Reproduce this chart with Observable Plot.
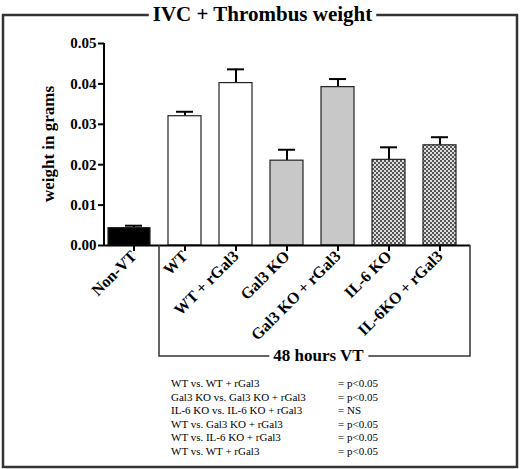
<!DOCTYPE html>
<html>
<head>
<meta charset="utf-8">
<script src="https://cdn.jsdelivr.net/npm/d3@7"></script>
<script src="https://cdn.jsdelivr.net/npm/@observablehq/plot@0.6"></script>
<style>
  body { margin: 0; background: #fff; }
  #chart svg { display: block; }
</style>
</head>
<body>
<div id="chart"></div>
<script>
const groups = ["Non-VT", "WT", "WT + rGal3", "Gal3 KO", "Gal3 KO + rGal3", "IL-6 KO", "IL-6KO + rGal3"];
const means = [0.0043, 0.0320, 0.0402, 0.0210, 0.0392, 0.0212, 0.0248];
const errors = [0.0006, 0.0011, 0.0034, 0.0027, 0.0020, 0.0031, 0.0020];
const yTicks = [0, 0.01, 0.02, 0.03, 0.04, 0.05];
const comparisons = [
  "WT vs. WT + rGal3",
  "Gal3 KO vs. Gal3 KO + rGal3",
  "IL-6 KO vs. IL-6 KO + rGal3",
  "WT vs. Gal3 KO + rGal3",
  "WT vs. IL-6 KO + rGal3",
  "WT vs. WT + rGal3"
];
const results = ["= p<0.05", "= p<0.05", "= NS", "= p<0.05", "= p<0.05", "= p<0.05"];

const data = groups.map((g, i) => ({group: g, mean: means[i], upper: means[i] + errors[i]}));

// bar look by genotype
function fillFor(d) {
  if (d.group === "Non-VT") return "#000";
  if (d.group.startsWith("Gal3")) return "#c8c8c8";
  if (d.group.startsWith("IL-6")) return "url(#checker)";
  return "#fff";
}

const serif = "Liberation Serif, serif";

const chart = Plot.plot({
  width: 520,
  height: 469,
  marginTop: 43,
  marginBottom: 224,
  marginLeft: 104,
  marginRight: 50,
  style: {
    background: "#fff",
    color: "#000",
    fontFamily: serif,
    fontSize: "14px",
    fontWeight: "bold"
  },
  color: {type: "identity"},
  x: {domain: groups, paddingInner: 0.35, paddingOuter: 0.195, label: null},
  y: {domain: [0, 0.05], label: null},
  marks: [
    Plot.ruleX(data, {x: "group", y1: "mean", y2: "upper", strokeWidth: 2}),
    Plot.tickY(data, {x: "group", y: "upper", strokeWidth: 2, insetLeft: 8, insetRight: 8}),
    Plot.barY(data.filter(d => d.group === "Non-VT"), {
      x: "group", y: "mean", fill: fillFor, stroke: "#222", strokeWidth: 1.2, insetLeft: -9
    }),
    Plot.barY(data.filter(d => d.group !== "Non-VT"), {
      x: "group", y: "mean", fill: fillFor, stroke: "#222", strokeWidth: 1.2
    }),
    Plot.ruleY([0], {strokeWidth: 2}),
    Plot.axisY({ticks: yTicks, tickFormat: d3.format(".2f"), tickSize: 6, strokeWidth: 2, tickPadding: 2, fontSize: 15, label: null}),
    Plot.axisX({tickSize: 6, tickRotate: -45, strokeWidth: 2, tickPadding: 2, fontSize: 16, label: null})
  ]
});

document.getElementById("chart").appendChild(chart);

const svg = d3.select(chart);
const xs = chart.scale("x");
const ys = chart.scale("y");
const cx = g => xs.apply(g) + xs.bandwidth / 2;

// checker pattern for the IL-6 bars
const pat = svg.insert("defs", ":first-child")
  .append("pattern")
  .attr("id", "checker")
  .attr("patternUnits", "userSpaceOnUse")
  .attr("width", 4).attr("height", 4);
pat.append("rect").attr("width", 4).attr("height", 4).attr("fill", "#dedede");
pat.append("rect").attr("width", 2).attr("height", 2).attr("fill", "#555");
pat.append("rect").attr("x", 2).attr("y", 2).attr("width", 2).attr("height", 2).attr("fill", "#555");

// y axis line
const left = 104, right = 520 - 50;
svg.append("line")
  .attr("x1", left).attr("x2", left)
  .attr("y1", ys.apply(0) + 1).attr("y2", ys.apply(0.05))
  .attr("stroke", "#000").attr("stroke-width", 2);

// y label
svg.append("text")
  .attr("transform", `translate(54,${(ys.apply(0) + ys.apply(0.05)) / 2}) rotate(-90)`)
  .attr("text-anchor", "middle")
  .attr("font-size", 17)
  .attr("font-weight", "bold")
  .text("weight in grams");

// title and outer frame
const title = svg.append("text")
  .attr("x", 262.5).attr("y", 21)
  .attr("text-anchor", "middle")
  .attr("font-size", 21)
  .attr("font-weight", "bold")
  .text("IVC + Thrombus weight");

// 48 hours VT label
const bx = (cx(groups[0]) + cx(groups[1])) / 2;
const by = 356;
const lab = svg.append("text")
  .attr("x", (bx + right) / 2 + 4).attr("y", by + 5)
  .attr("text-anchor", "middle")
  .attr("font-size", 17)
  .attr("font-weight", "bold")
  .text("48 hours VT");

// statistics
const stats = svg.append("g")
  .attr("font-size", 11)
  .attr("font-weight", "normal")
  .attr("text-anchor", "start");
comparisons.forEach((c, i) => {
  stats.append("text").attr("x", 171).attr("y", 387 + i * 13.5).text(c);
  stats.append("text").attr("x", 338).attr("y", 387 + i * 13.5).text(results[i]);
});

// serif everywhere, then measure for the gaps in the lines
svg.selectAll("text").attr("font-family", serif);

const tb = title.node().getBBox();
svg.append("path")
  .attr("d", `M${tb.x - 4},15H3V467H517V15H${tb.x + tb.width + 4}`)
  .attr("fill", "none").attr("stroke", "#333").attr("stroke-width", 2.5);

const lb = lab.node().getBBox();
svg.append("path")
  .attr("d", `M${lb.x - 4},${by}H${bx}V${ys.apply(0)}M${right},${ys.apply(0)}V${by}H${lb.x + lb.width + 4}`)
  .attr("fill", "none").attr("stroke", "#333").attr("stroke-width", 1.5);
</script>
</body>
</html>
